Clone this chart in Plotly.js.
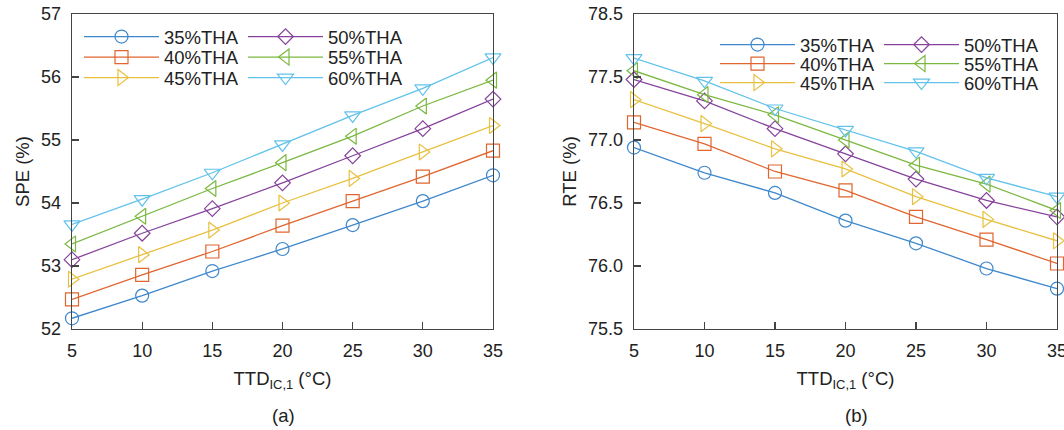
<!DOCTYPE html>
<html>
<head>
<meta charset="utf-8">
<script src="https://cdn.plot.ly/plotly-3.0.1.min.js"></script>
<style>html,body{margin:0;padding:0;background:#fff;}#chart{width:1064px;height:430px;}</style>
</head>
<body>
<div id="chart"></div>
<script>
// ---- data ----
const ttd = [5, 10, 15, 20, 25, 30, 35];
const seriesNames = ['35%THA', '40%THA', '45%THA', '50%THA', '55%THA', '60%THA'];

// SPE (%) panel (a)
const spe35 = [52.17, 52.53, 52.92, 53.27, 53.65, 54.03, 54.44];
const spe40 = [52.47, 52.86, 53.23, 53.64, 54.03, 54.42, 54.83];
const spe45 = [52.79, 53.18, 53.57, 54.00, 54.39, 54.81, 55.23];
const spe50 = [53.10, 53.52, 53.91, 54.32, 54.75, 55.18, 55.65];
const spe55 = [53.35, 53.79, 54.23, 54.64, 55.06, 55.54, 55.95];
const spe60 = [53.66, 54.06, 54.48, 54.93, 55.39, 55.82, 56.31];

// RTE (%) panel (b)
const rte35 = [76.94, 76.74, 76.58, 76.36, 76.18, 75.98, 75.82];
const rte40 = [77.14, 76.97, 76.75, 76.60, 76.39, 76.21, 76.02];
const rte45 = [77.32, 77.13, 76.93, 76.77, 76.55, 76.37, 76.20];
const rte50 = [77.48, 77.31, 77.09, 76.89, 76.69, 76.52, 76.39];
const rte55 = [77.55, 77.36, 77.20, 77.00, 76.80, 76.65, 76.44];
const rte60 = [77.65, 77.47, 77.25, 77.08, 76.91, 76.70, 76.55];

const xTicks = [5, 10, 15, 20, 25, 30, 35];
const speTicks = [52, 53, 54, 55, 56, 57];
const rteTicks = [75.5, 76.0, 76.5, 77.0, 77.5, 78.0];
const rteTickText = ['75.5', '76.0', '76.5', '77.0', '77.5', '78.5'];

// ---- styles ----
const colors = ['#3f88cc', '#e0652e', '#e8c040', '#86439c', '#7bb840', '#62c2ea'];
const symbols = ['circle-open', 'square-open', 'triangle-right-open', 'diamond-open', 'triangle-left-open', 'triangle-down-open'];
const sizes = [13, 13, 14, 12, 14, 14];
const FONT = 'Arial, "Liberation Sans", sans-serif';
const TXT = '#222';

const speData = [spe35, spe40, spe45, spe50, spe55, spe60];
const rteData = [rte35, rte40, rte45, rte50, rte55, rte60];

const L = 72, R = 7, T = 14, B = 101;
const W = 1064 - L - R;
const px = p => (p - L) / W;
const py = p => 1 - (p - T) / (430 - T - B);

// legend entry placement (pixel positions of each entry: col x, row y)
const legCols = {a: [79, 243], b: [715, 879]};
const legRows = {a: [37, 57.5, 78], b: [45, 64, 83]};

const traces = [];
const layout = {
  width: 1064, height: 430,
  margin: {l: L, r: R, t: T, b: B},
  paper_bgcolor: '#fff', plot_bgcolor: '#fff',
  font: {family: FONT, size: 18, color: TXT},
  showlegend: true
};

let legIdx = 0;
function addPanel(dataArr, xa, ya, panel) {
  dataArr.forEach((ys, i) => {
    legIdx += 1;
    const legName = legIdx === 1 ? 'legend' : 'legend' + legIdx;
    traces.push({
      x: ttd, y: ys, xaxis: xa, yaxis: ya,
      type: 'scatter', mode: 'lines+markers', name: seriesNames[i],
      legend: legName,
      cliponaxis: false,
      line: {color: colors[i], width: 1.3},
      marker: {symbol: symbols[i], size: sizes[i], color: colors[i], line: {color: colors[i], width: 1.2}}
    });
    const col = Math.floor(i / 3), row = i % 3;
    layout[legName] = {
      bgcolor: 'rgba(0,0,0,0)', borderwidth: 0, itemwidth: 75,
      font: {family: FONT, size: 18.5, color: TXT},
      xanchor: 'left', yanchor: 'middle',
      x: px(legCols[panel][col]), y: py(legRows[panel][row]),
      itemclick: false
    };
  });
}
addPanel(speData, 'x', 'y', 'a');
addPanel(rteData, 'x2', 'y2', 'b');

const axisCommon = {
  showline: true, mirror: true, linecolor: '#444', linewidth: 1.3,
  ticks: 'inside', ticklen: 7, tickcolor: '#444', tickwidth: 1.3,
  showgrid: false, zeroline: false, ticklabeloverflow: 'allow',
  tickfont: {family: FONT, size: 18, color: TXT}
};
const titleFont = {family: FONT, size: 18.5, color: TXT};

layout.xaxis = Object.assign({}, axisCommon, {domain: [0, px(493)], range: [5, 35], tickvals: xTicks, ticklabelstandoff: 5,
  title: {text: 'TTD<sub>IC,1</sub> (°C)', font: titleFont, standoff: 12}});
layout.yaxis = Object.assign({}, axisCommon, {domain: [0, 1], range: [52, 57], tickvals: speTicks, ticklabelstandoff: 6,
  title: {text: 'SPE (%)', font: titleFont, standoff: 6}});
layout.xaxis2 = Object.assign({}, axisCommon, {domain: [px(634), 1], range: [5, 35], tickvals: xTicks, ticklabelstandoff: 5, anchor: 'y2',
  title: {text: 'TTD<sub>IC,1</sub> (°C)', font: titleFont, standoff: 12}});
layout.yaxis2 = Object.assign({}, axisCommon, {domain: [0, 1], range: [75.5, 78.0], tickvals: rteTicks, ticktext: rteTickText, ticklabelstandoff: 6, anchor: 'x2',
  title: {text: 'RTE (%)', font: titleFont, standoff: 6}});
layout.annotations = [
  {text: '(a)', xref: 'paper', yref: 'paper', x: px(283), y: py(415), showarrow: false, xanchor: 'center', yanchor: 'middle', font: titleFont},
  {text: '(b)', xref: 'paper', yref: 'paper', x: px(856), y: py(415), showarrow: false, xanchor: 'center', yanchor: 'middle', font: titleFont}
];

Plotly.newPlot('chart', traces, layout, {staticPlot: true, displayModeBar: false});
</script>
</body>
</html>
